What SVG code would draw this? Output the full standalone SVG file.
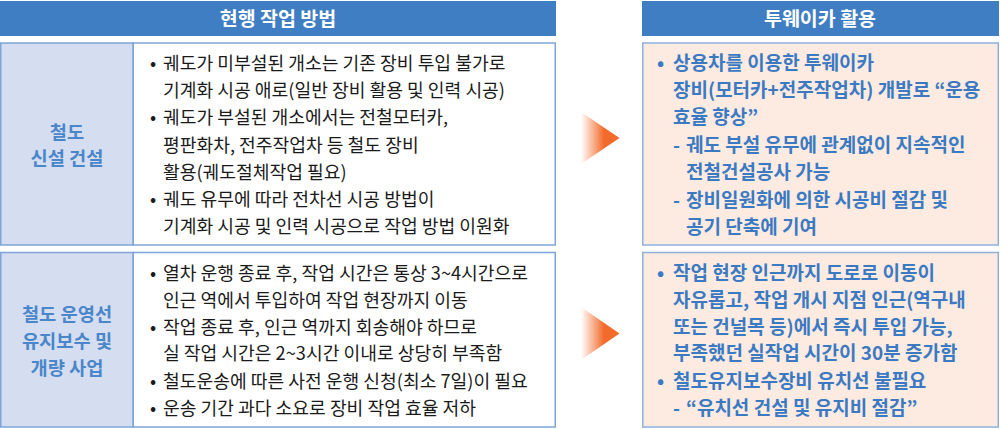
<svg xmlns="http://www.w3.org/2000/svg" width="1000" height="429" viewBox="0 0 1000 429">
<defs>
<linearGradient id="arrowGrad" x1="0" y1="0" x2="1" y2="0">
<stop offset="0" stop-color="#F26B2A" stop-opacity="0"/>
<stop offset="0.6" stop-color="#F26B2A" stop-opacity="1"/>
<stop offset="1" stop-color="#F26B2A" stop-opacity="1"/>
</linearGradient>
<style>
.hdr{fill:#3F7EC2;}
.hdrtxt{font-family:"Noto Sans CJK KR","Noto Sans",sans-serif;font-size:19.5px;font-weight:bold;fill:#FFFFFF;text-anchor:middle;}
.box{fill:#FFFFFF;stroke:#7FA5D7;stroke-width:1.5;}
.lbl{fill:#D5DDF1;stroke:#7FA5D7;stroke-width:1.5;}
.lbltxt{font-family:"Noto Sans CJK KR","Noto Sans",sans-serif;font-size:18.7px;font-weight:bold;fill:#4A86C9;text-anchor:middle;}
.body{font-family:"Noto Sans CJK KR","Noto Sans",sans-serif;font-size:18.2px;fill:#1A1A1A;}
.rbox{fill:#FDEBE1;stroke:#8FB0DC;stroke-width:1.5;}
.rbody{font-family:"Noto Sans CJK KR","Noto Sans",sans-serif;font-size:19px;font-weight:bold;fill:#3B7AC2;}
.arrow{fill:url(#arrowGrad);}
</style>
</defs>

<g id="header-current">
<rect class="hdr" x="0" y="1" width="556" height="35"/>
<text class="hdrtxt" x="278" y="25.5">현행 작업 방법</text>
</g>

<g id="header-twoway">
<rect class="hdr" x="642" y="1" width="357" height="35"/>
<text class="hdrtxt" x="820" y="25.5">투웨이카 활용</text>
</g>

<g id="label-construction">
<rect class="lbl" x="0.75" y="43" width="132.5" height="202"/>
<text class="lbltxt" x="67" y="138.5">철도</text>
<text class="lbltxt" x="67" y="164.5">신설 건설</text>
</g>

<g id="current-construction">
<rect class="box" x="133.25" y="43" width="422" height="202"/>
<text class="body" x="150" y="69.5">•<tspan x="163">궤도가 미부설된 개소는 기존 장비 투입 불가로</tspan></text>
<text class="body" x="163" y="96.5">기계화 시공 애로(일반 장비 활용 및 인력 시공)</text>
<text class="body" x="150" y="123.5">•<tspan x="163">궤도가 부설된 개소에서는 전철모터카,</tspan></text>
<text class="body" x="163" y="151.5">평판화차, 전주작업차 등 철도 장비</text>
<text class="body" x="163" y="178.5">활용(궤도절체작업 필요)</text>
<text class="body" x="150" y="205.5">•<tspan x="163">궤도 유무에 따라 전차선 시공 방법이</tspan></text>
<text class="body" x="163" y="232.5">기계화 시공 및 인력 시공으로 작업 방법 이원화</text>
</g>

<g id="label-maintenance">
<rect class="lbl" x="0.75" y="252.5" width="132.5" height="174.5"/>
<text class="lbltxt" x="67" y="320.5">철도 운영선</text>
<text class="lbltxt" x="67" y="347.5">유지보수 및</text>
<text class="lbltxt" x="67" y="374.5">개량 사업</text>
</g>

<g id="current-maintenance">
<rect class="box" x="133.25" y="252.5" width="422" height="174.5"/>
<text class="body" x="150" y="279.5">•<tspan x="163">열차 운행 종료 후, 작업 시간은 통상 3~4시간으로</tspan></text>
<text class="body" x="163" y="306.5">인근 역에서 투입하여 작업 현장까지 이동</text>
<text class="body" x="150" y="333.5">•<tspan x="163">작업 종료 후, 인근 역까지 회송해야 하므로</tspan></text>
<text class="body" x="163" y="359.5">실 작업 시간은 2~3시간 이내로 상당히 부족함</text>
<text class="body" x="150" y="387.5">•<tspan x="163">철도운송에 따른 사전 운행 신청(최소 7일)이 필요</tspan></text>
<text class="body" x="150" y="414.5">•<tspan x="163">운송 기간 과다 소요로 장비 작업 효율 저하</tspan></text>
</g>

<g id="twoway-construction">
<rect class="rbox" x="642.75" y="43" width="355.5" height="202"/>
<text class="rbody" x="657" y="69.5">•<tspan x="673">상용차를 이용한 투웨이카</tspan></text>
<text class="rbody" x="673" y="96.5">장비(모터카+전주작업차) 개발로 “운용</text>
<text class="rbody" x="673" y="123.5">효율 향상”</text>
<text class="rbody" x="673" y="151.5">-<tspan x="686">궤도 부설 유무에 관계없이 지속적인</tspan></text>
<text class="rbody" x="686" y="178.5">전철건설공사 가능</text>
<text class="rbody" x="673" y="206.5">-<tspan x="686">장비일원화에 의한 시공비 절감 및</tspan></text>
<text class="rbody" x="686" y="233.5">공기 단축에 기여</text>
</g>

<g id="twoway-maintenance">
<rect class="rbox" x="642.75" y="252.5" width="355.5" height="174.5"/>
<text class="rbody" x="657" y="279.5">•<tspan x="673">작업 현장 인근까지 도로로 이동이</tspan></text>
<text class="rbody" x="673" y="306.5">자유롭고, 작업 개시 지점 인근(역구내</text>
<text class="rbody" x="673" y="333.5">또는 건널목 등)에서 즉시 투입 가능,</text>
<text class="rbody" x="673" y="359.5">부족했던 실작업 시간이 30분 증가함</text>
<text class="rbody" x="657" y="387.5">•<tspan x="673">철도유지보수장비 유치선 불필요</tspan></text>
<text class="rbody" x="673" y="414.5">-<tspan x="686">“유치선 건설 및 유지비 절감”</tspan></text>
</g>

<g id="connectors">
<polygon class="arrow" points="581,112 619.5,138 581,164"/>
<polygon class="arrow" points="581,307 619.5,333.5 581,360"/>
</g>
</svg>
